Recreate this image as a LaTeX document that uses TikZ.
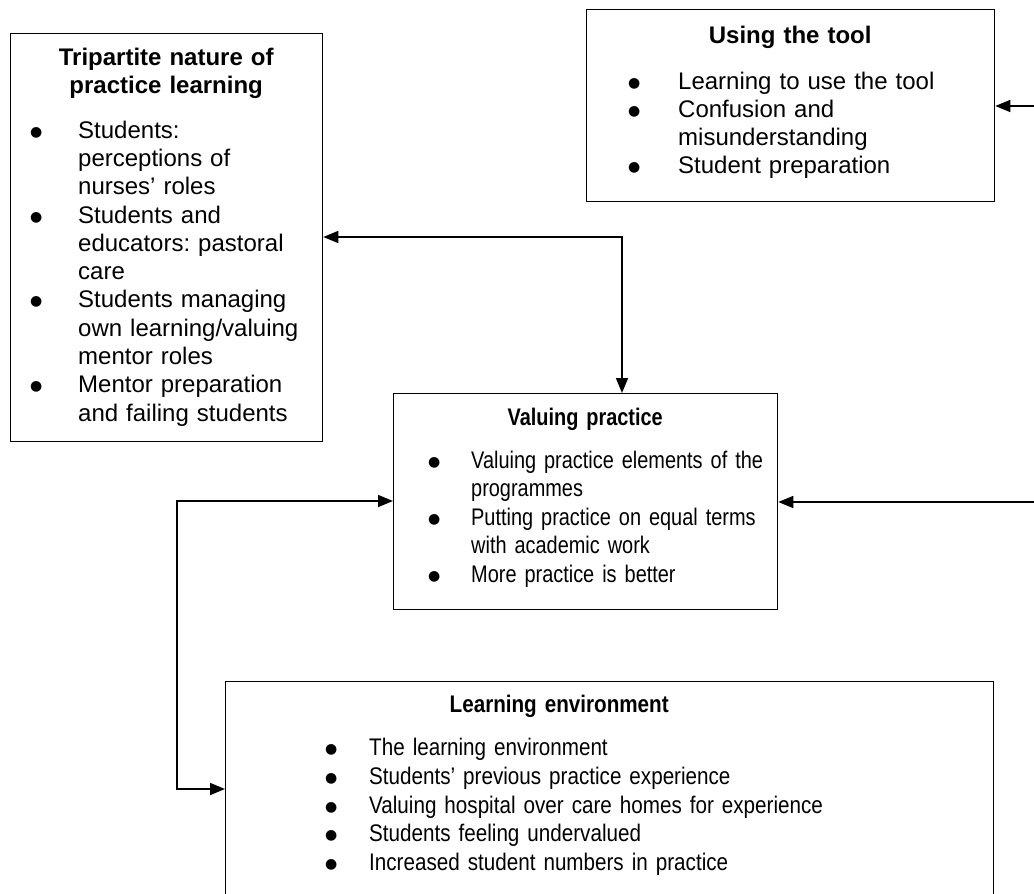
\documentclass[tikz,border=0pt]{standalone}
\usepackage{fontspec}
\setmainfont{Liberation Sans}
\newfontfamily\slimC[Ligatures=TeX, FakeStretch=0.83]{Liberation Sans}
\newfontfamily\slimD[Ligatures=TeX, FakeStretch=0.86]{Liberation Sans}
\newfontfamily\symfont{DejaVu Sans}
\usetikzlibrary{positioning,arrows.meta}
\tikzset{theme/.style={draw, line width=1.3pt, inner sep=0pt, anchor=north west},
         body/.style={inner sep=0pt, anchor=base west, align=left,
                      font=\fontsize{24pt}{28.3pt}\selectfont\frenchspacing},
         link/.style={-{Triangle[length=15pt,width=12pt]}, line width=1.6pt},
         links/.style={{Triangle[length=15pt,width=12pt]}-{Triangle[length=15pt,width=12pt]}, line width=1.6pt}
}
% centred bold heading, optional extra right margin
\newcommand{\hdr}[2][0pt]{{\centering\bfseries\advance\rightskip by #1\relax #2\par}}
\newcommand{\bigdot}{\raisebox{2pt}{\symfont\fontsize{14pt}{14pt}\selectfont ●}}
% bullet list: #1 = bullet offset, #2 = text offset (from box edge)
\newenvironment{pts}[2]{\begin{list}{\bigdot}{\setlength{\leftmargin}{#2}%
  \setlength{\labelwidth}{\dimexpr#2-#1\relax}\setlength{\labelsep}{0pt}%
  \setlength{\itemsep}{0pt}\setlength{\parsep}{0pt}\setlength{\topsep}{0pt}%
  \setlength{\partopsep}{0pt}\def\makelabel##1{##1\hfil}}}{\end{list}}

\begin{document}
\begin{tikzpicture}[x=1pt,y=-1pt]
    %  trip          tool  <--
    %     \--> value       <--
    %  \--> learn
    \useasboundingbox (0,0) rectangle (1034,894);

    % boxes
    \node[theme, minimum width=312, minimum height=408] (trip)  at (10,33)  {};
    \node[theme, minimum width=408, minimum height=192] (tool)  at (586,9)  {};
    \node[theme, minimum width=384, minimum height=216] (value) at (393,393) {};
    \node[theme, minimum width=768, minimum height=240] (learn) at (225,681) {};

    % box contents
    \node[body, text width=312] (tripTxt) at (10,65) {%
        \hdr{Tripartite nature of\\practice learning}\vspace{16.5pt}
        \begin{pts}{20pt}{68pt}
        \item Students:\\perceptions of\\nurses' roles
        \item Students and\\educators: pastoral\\care
        \item Students managing\\own learning/valuing\\mentor roles
        \item Mentor preparation\\and failing students
        \end{pts}};
    \node[body, text width=408] (toolTxt) at (586,43) {%
        \hdr{Using the tool}\vspace{17.7pt}
        \begin{pts}{42pt}{92pt}
        \item Learning to use the tool
        \item Confusion and\\misunderstanding
        \item Student preparation
        \end{pts}};
    \node[body, text width=384, font=\slimC\fontsize{24pt}{28.5pt}\selectfont] (valueTxt) at (393,425) {%
        \hdr{Valuing practice}\vspace{14.5pt}
        \begin{pts}{35pt}{78pt}
        \item Valuing practice elements of the\\programmes
        \item Putting practice on equal terms\\with academic work
        \item More practice is better
        \end{pts}};
    \node[body, text width=768, font=\slimD\fontsize{24pt}{28.7pt}\selectfont] (learnTxt) at (225,712) {%
        \hdr[100pt]{Learning environment}\vspace{15pt}
        \begin{pts}{100pt}{144pt}
        \item The learning environment
        \item Students' previous practice experience
        \item Valuing hospital over care homes for experience
        \item Students feeling undervalued
        \item Increased student numbers in practice
        \end{pts}};

    % connectors
    \coordinate (inTool)  at (1034,106);
    \coordinate (inValue) at (1034,502);
    \coordinate (bendA)   at (622,237);
    \coordinate (loopTop) at (177,501);
    \coordinate (loopBot) at (177,789);

    \draw[link]  (inTool) -- (inTool -| tool.east);
    \draw[link]  (inValue) -- (inValue -| value.east);
    \draw[links] (bendA -| trip.east) -- (bendA) -- (bendA |- value.north);
    \draw[links] (loopTop -| value.west) -- (loopTop) -- (loopBot) -- (loopBot -| learn.west);
\end{tikzpicture}
\end{document}
